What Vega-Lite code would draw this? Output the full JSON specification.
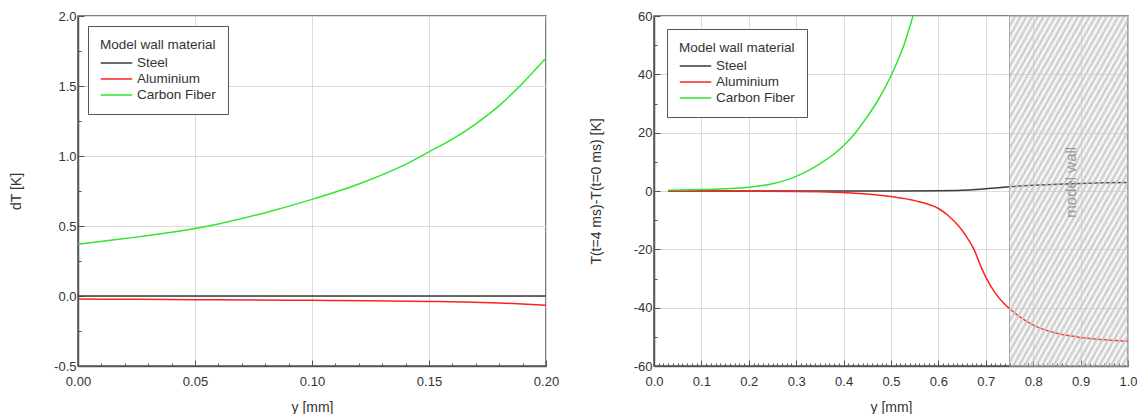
{
"$schema":"https://vega.github.io/schema/vega-lite/v6.json",
"padding":{"left":8,"top":9,"right":2,"bottom":2},
"config":{
 "font":"Liberation Sans",
 "view":{"stroke":"#555","strokeWidth":1.5},
 "axis":{"domainColor":"#555","domainWidth":1.5,"tickColor":"#555","tickWidth":1,"gridColor":"#dcdcdc","gridWidth":1,"labelFontSize":13,"labelColor":"#333","titleFontSize":14,"titleFontWeight":"normal","titleColor":"#333","labelOverlap":false,"labelFlush":false},
 "legend":{"orient":"top-left","padding":12,"strokeColor":"#555","strokeWidth":1,"fillColor":"#ffffff","titleFontWeight":"normal","titleFontSize":13.5,"titleColor":"#333","labelFontSize":13.5,"labelColor":"#333","symbolType":"M-2.1,0H2.1","symbolSize":225,"symbolStrokeWidth":1.5,"symbolOffset":8,"rowPadding":1,"labelOffset":12,"titlePadding":3},
 "concat":{"spacing":28}
},
"datasets":{
 "left":[
  {"material":"Steel","y_mm":0,"dT":0},{"material":"Steel","y_mm":0.05,"dT":0},{"material":"Steel","y_mm":0.1,"dT":0},{"material":"Steel","y_mm":0.15,"dT":0},{"material":"Steel","y_mm":0.2,"dT":0},
  {"material":"Aluminium","y_mm":0,"dT":-0.022},{"material":"Aluminium","y_mm":0.025,"dT":-0.024},{"material":"Aluminium","y_mm":0.05,"dT":-0.026},{"material":"Aluminium","y_mm":0.075,"dT":-0.028},{"material":"Aluminium","y_mm":0.1,"dT":-0.031},{"material":"Aluminium","y_mm":0.125,"dT":-0.034},{"material":"Aluminium","y_mm":0.15,"dT":-0.039},{"material":"Aluminium","y_mm":0.165,"dT":-0.043},{"material":"Aluminium","y_mm":0.18,"dT":-0.05},{"material":"Aluminium","y_mm":0.19,"dT":-0.057},{"material":"Aluminium","y_mm":0.2,"dT":-0.066},
  {"material":"Carbon Fiber","y_mm":0,"dT":0.37},{"material":"Carbon Fiber","y_mm":0.02,"dT":0.41},{"material":"Carbon Fiber","y_mm":0.04,"dT":0.455},{"material":"Carbon Fiber","y_mm":0.06,"dT":0.515},{"material":"Carbon Fiber","y_mm":0.08,"dT":0.595},{"material":"Carbon Fiber","y_mm":0.1,"dT":0.69},{"material":"Carbon Fiber","y_mm":0.12,"dT":0.8},{"material":"Carbon Fiber","y_mm":0.14,"dT":0.94},{"material":"Carbon Fiber","y_mm":0.15,"dT":1.03},{"material":"Carbon Fiber","y_mm":0.16,"dT":1.12},{"material":"Carbon Fiber","y_mm":0.17,"dT":1.23},{"material":"Carbon Fiber","y_mm":0.18,"dT":1.36},{"material":"Carbon Fiber","y_mm":0.19,"dT":1.52},{"material":"Carbon Fiber","y_mm":0.2,"dT":1.7}
 ],
 "right":[
  {"material":"Steel","y_mm":0.03,"dT":0},{"material":"Steel","y_mm":0.2,"dT":0},{"material":"Steel","y_mm":0.4,"dT":0},{"material":"Steel","y_mm":0.5,"dT":0.03},{"material":"Steel","y_mm":0.6,"dT":0.1},{"material":"Steel","y_mm":0.65,"dT":0.25},{"material":"Steel","y_mm":0.68,"dT":0.5},{"material":"Steel","y_mm":0.7,"dT":0.75},{"material":"Steel","y_mm":0.72,"dT":1.05},{"material":"Steel","y_mm":0.75,"dT":1.45},{"material":"Steel","y_mm":0.8,"dT":1.95},{"material":"Steel","y_mm":0.85,"dT":2.3},{"material":"Steel","y_mm":0.9,"dT":2.6},{"material":"Steel","y_mm":0.95,"dT":2.8},{"material":"Steel","y_mm":1.0,"dT":2.9},
  {"material":"Aluminium","y_mm":0.03,"dT":0},{"material":"Aluminium","y_mm":0.1,"dT":-0.02},{"material":"Aluminium","y_mm":0.2,"dT":-0.05},{"material":"Aluminium","y_mm":0.3,"dT":-0.15},{"material":"Aluminium","y_mm":0.35,"dT":-0.3},{"material":"Aluminium","y_mm":0.4,"dT":-0.55},{"material":"Aluminium","y_mm":0.45,"dT":-1.0},{"material":"Aluminium","y_mm":0.5,"dT":-1.9},{"material":"Aluminium","y_mm":0.55,"dT":-3.3},{"material":"Aluminium","y_mm":0.6,"dT":-6.0},{"material":"Aluminium","y_mm":0.62,"dT":-8.3},{"material":"Aluminium","y_mm":0.64,"dT":-11.5},{"material":"Aluminium","y_mm":0.66,"dT":-15.8},{"material":"Aluminium","y_mm":0.675,"dT":-20},{"material":"Aluminium","y_mm":0.69,"dT":-26},{"material":"Aluminium","y_mm":0.7,"dT":-29.5},{"material":"Aluminium","y_mm":0.72,"dT":-35},{"material":"Aluminium","y_mm":0.74,"dT":-38.8},{"material":"Aluminium","y_mm":0.75,"dT":-40.3},{"material":"Aluminium","y_mm":0.775,"dT":-43.5},{"material":"Aluminium","y_mm":0.8,"dT":-46},{"material":"Aluminium","y_mm":0.85,"dT":-48.8},{"material":"Aluminium","y_mm":0.9,"dT":-50.2},{"material":"Aluminium","y_mm":0.95,"dT":-51},{"material":"Aluminium","y_mm":1.0,"dT":-51.5},
  {"material":"Carbon Fiber","y_mm":0.03,"dT":0.3},{"material":"Carbon Fiber","y_mm":0.1,"dT":0.5},{"material":"Carbon Fiber","y_mm":0.15,"dT":0.8},{"material":"Carbon Fiber","y_mm":0.2,"dT":1.3},{"material":"Carbon Fiber","y_mm":0.25,"dT":2.5},{"material":"Carbon Fiber","y_mm":0.3,"dT":5.0},{"material":"Carbon Fiber","y_mm":0.35,"dT":9.3},{"material":"Carbon Fiber","y_mm":0.4,"dT":15.5},{"material":"Carbon Fiber","y_mm":0.425,"dT":20},{"material":"Carbon Fiber","y_mm":0.45,"dT":25.5},{"material":"Carbon Fiber","y_mm":0.475,"dT":31.8},{"material":"Carbon Fiber","y_mm":0.5,"dT":39.5},{"material":"Carbon Fiber","y_mm":0.525,"dT":49},{"material":"Carbon Fiber","y_mm":0.55,"dT":62}
 ],
 "wall":[{"y_mm":0.75,"y_mm_end":1.0,"dT":-60,"dT_end":60}],
 "wall_label":[{"y_mm":0.88,"dT":3,"label":"model wall"}]
},
"hconcat":[
 {"width":468,"height":350,"data":{"name":"left"},"mark":{"type":"line","strokeWidth":1.5,"clip":true,"interpolate":"monotone"},
  "encoding":{
   "x":{"field":"y_mm","type":"quantitative","scale":{"domain":[0,0.2],"nice":false},
    "axis":{"title":"y [mm]","titlePadding":9,"labelPadding":15,"labelOverlap":false,"labelFlush":false,"grid":true,"values":[0,0.01,0.02,0.03,0.04,0.05,0.06,0.07,0.08,0.09,0.1,0.11,0.12,0.13,0.14,0.15,0.16,0.17,0.18,0.19,0.2],
     "labelExpr":"round(datum.value*100)%5==0 ? format(datum.value,'.2f') : ''",
     "tickSize":{"condition":{"test":"round(datum.value*100)%5==0","value":-6},"value":-3},
     "gridOpacity":{"condition":{"test":"round(datum.value*100)%5==0","value":1},"value":0}}},
   "y":{"field":"dT","type":"quantitative","scale":{"domain":[-0.5,2],"nice":false},
    "axis":{"title":"dT [K]","titlePadding":30,"labelPadding":8,"labelOverlap":false,"labelFlush":false,"grid":true,"values":[-0.5,-0.25,0,0.25,0.5,0.75,1,1.25,1.5,1.75,2],
     "labelExpr":"round(datum.value*100)%50==0 ? replace(format(datum.value,'.1f'),'−','-') : ''",
     "tickSize":{"condition":{"test":"round(datum.value*100)%50==0","value":-6},"value":-3},
     "gridOpacity":{"condition":{"test":"round(datum.value*100)%50==0","value":1},"value":0}}},
   "color":{"field":"material","type":"nominal","scale":{"domain":["Steel","Aluminium","Carbon Fiber"],"range":["#3a3a3a","#ff2020","#2ee82e"]},"legend":{"title":"Model wall material","orient":"top-left","offset":10}}
  }},
 {"width":474,"height":350,
  "encoding":{
    "x":{"field":"y_mm","type":"quantitative","scale":{"domain":[0,1],"nice":false},
     "axis":{"title":"y [mm]","titlePadding":9,"labelPadding":15,"labelOverlap":false,"labelFlush":false,"grid":true,"values":[0,0.01,0.02,0.03,0.04,0.05,0.06,0.07,0.08,0.09,0.1,0.11,0.12,0.13,0.14,0.15,0.16,0.17,0.18,0.19,0.2,0.21,0.22,0.23,0.24,0.25,0.26,0.27,0.28,0.29,0.3,0.31,0.32,0.33,0.34,0.35,0.36,0.37,0.38,0.39,0.4,0.41,0.42,0.43,0.44,0.45,0.46,0.47,0.48,0.49,0.5,0.51,0.52,0.53,0.54,0.55,0.56,0.57,0.58,0.59,0.6,0.61,0.62,0.63,0.64,0.65,0.66,0.67,0.68,0.69,0.7,0.71,0.72,0.73,0.74,0.75,0.76,0.77,0.78,0.79,0.8,0.81,0.82,0.83,0.84,0.85,0.86,0.87,0.88,0.89,0.9,0.91,0.92,0.93,0.94,0.95,0.96,0.97,0.98,0.99,1.0],
      "labelExpr":"round(datum.value*100)%10==0 ? format(datum.value,'.1f') : ''",
      "tickSize":{"condition":{"test":"round(datum.value*100)%10==0","value":-6},"value":-3},
      "gridOpacity":{"condition":{"test":"round(datum.value*100)%10==0","value":1},"value":0}}},
    "y":{"field":"dT","type":"quantitative","scale":{"domain":[-60,60],"nice":false},
     "axis":{"title":"T(t=4 ms)-T(t=0 ms) [K]","titlePadding":30,"labelPadding":8,"labelOverlap":false,"labelFlush":false,"grid":true,"values":[-60,-50,-40,-30,-20,-10,0,10,20,30,40,50,60],
      "labelExpr":"round(datum.value)%20==0 ? replace(format(datum.value,'d'),'−','-') : ''",
      "tickSize":{"condition":{"test":"round(datum.value)%20==0","value":-6},"value":-3},
      "gridOpacity":{"condition":{"test":"round(datum.value)%20==0","value":1},"value":0}}}
  },
  "layer":[
  {"data":{"name":"right"},"mark":{"type":"line","strokeWidth":1.5,"clip":true,"interpolate":"monotone"},
   "encoding":{
    "color":{"field":"material","type":"nominal","scale":{"domain":["Steel","Aluminium","Carbon Fiber"],"range":["#3a3a3a","#ff2020","#2ee82e"]},"legend":{"title":"Model wall material","orient":"top-left","offset":13}}
   }},
  {"data":{"name":"wall"},"mark":{"type":"rect","stroke":"#a8a8a8","strokeWidth":1,
    "fill":{"gradient":"linear","x1":0,"y1":0,"x2":0.706,"y2":1.176,"stops":[
{"offset":0,"color":"#c8c8c8"},{"offset":0.00909,"color":"rgba(200,200,200,0)"},{"offset":0.01818,"color":"#c8c8c8"},{"offset":0.02727,"color":"rgba(200,200,200,0)"},{"offset":0.03636,"color":"#c8c8c8"},{"offset":0.04545,"color":"rgba(200,200,200,0)"},{"offset":0.05455,"color":"#c8c8c8"},{"offset":0.06364,"color":"rgba(200,200,200,0)"},{"offset":0.07273,"color":"#c8c8c8"},{"offset":0.08182,"color":"rgba(200,200,200,0)"},{"offset":0.09091,"color":"#c8c8c8"},{"offset":0.1,"color":"rgba(200,200,200,0)"},
{"offset":0.10909,"color":"#c8c8c8"},{"offset":0.11818,"color":"rgba(200,200,200,0)"},{"offset":0.12727,"color":"#c8c8c8"},{"offset":0.13636,"color":"rgba(200,200,200,0)"},{"offset":0.14545,"color":"#c8c8c8"},{"offset":0.15455,"color":"rgba(200,200,200,0)"},{"offset":0.16364,"color":"#c8c8c8"},{"offset":0.17273,"color":"rgba(200,200,200,0)"},{"offset":0.18182,"color":"#c8c8c8"},{"offset":0.19091,"color":"rgba(200,200,200,0)"},{"offset":0.2,"color":"#c8c8c8"},
{"offset":0.20909,"color":"rgba(200,200,200,0)"},{"offset":0.21818,"color":"#c8c8c8"},{"offset":0.22727,"color":"rgba(200,200,200,0)"},{"offset":0.23636,"color":"#c8c8c8"},{"offset":0.24545,"color":"rgba(200,200,200,0)"},{"offset":0.25455,"color":"#c8c8c8"},{"offset":0.26364,"color":"rgba(200,200,200,0)"},{"offset":0.27273,"color":"#c8c8c8"},{"offset":0.28182,"color":"rgba(200,200,200,0)"},{"offset":0.29091,"color":"#c8c8c8"},{"offset":0.3,"color":"rgba(200,200,200,0)"},
{"offset":0.30909,"color":"#c8c8c8"},{"offset":0.31818,"color":"rgba(200,200,200,0)"},{"offset":0.32727,"color":"#c8c8c8"},{"offset":0.33636,"color":"rgba(200,200,200,0)"},{"offset":0.34545,"color":"#c8c8c8"},{"offset":0.35455,"color":"rgba(200,200,200,0)"},{"offset":0.36364,"color":"#c8c8c8"},{"offset":0.37273,"color":"rgba(200,200,200,0)"},{"offset":0.38182,"color":"#c8c8c8"},{"offset":0.39091,"color":"rgba(200,200,200,0)"},{"offset":0.4,"color":"#c8c8c8"},
{"offset":0.40909,"color":"rgba(200,200,200,0)"},{"offset":0.41818,"color":"#c8c8c8"},{"offset":0.42727,"color":"rgba(200,200,200,0)"},{"offset":0.43636,"color":"#c8c8c8"},{"offset":0.44545,"color":"rgba(200,200,200,0)"},{"offset":0.45455,"color":"#c8c8c8"},{"offset":0.46364,"color":"rgba(200,200,200,0)"},{"offset":0.47273,"color":"#c8c8c8"},{"offset":0.48182,"color":"rgba(200,200,200,0)"},{"offset":0.49091,"color":"#c8c8c8"},{"offset":0.5,"color":"rgba(200,200,200,0)"},
{"offset":0.50909,"color":"#c8c8c8"},{"offset":0.51818,"color":"rgba(200,200,200,0)"},{"offset":0.52727,"color":"#c8c8c8"},{"offset":0.53636,"color":"rgba(200,200,200,0)"},{"offset":0.54545,"color":"#c8c8c8"},{"offset":0.55455,"color":"rgba(200,200,200,0)"},{"offset":0.56364,"color":"#c8c8c8"},{"offset":0.57273,"color":"rgba(200,200,200,0)"},{"offset":0.58182,"color":"#c8c8c8"},{"offset":0.59091,"color":"rgba(200,200,200,0)"},{"offset":0.6,"color":"#c8c8c8"},
{"offset":0.60909,"color":"rgba(200,200,200,0)"},{"offset":0.61818,"color":"#c8c8c8"},{"offset":0.62727,"color":"rgba(200,200,200,0)"},{"offset":0.63636,"color":"#c8c8c8"},{"offset":0.64545,"color":"rgba(200,200,200,0)"},{"offset":0.65455,"color":"#c8c8c8"},{"offset":0.66364,"color":"rgba(200,200,200,0)"},{"offset":0.67273,"color":"#c8c8c8"},{"offset":0.68182,"color":"rgba(200,200,200,0)"},{"offset":0.69091,"color":"#c8c8c8"},{"offset":0.7,"color":"rgba(200,200,200,0)"},
{"offset":0.70909,"color":"#c8c8c8"},{"offset":0.71818,"color":"rgba(200,200,200,0)"},{"offset":0.72727,"color":"#c8c8c8"},{"offset":0.73636,"color":"rgba(200,200,200,0)"},{"offset":0.74545,"color":"#c8c8c8"},{"offset":0.75455,"color":"rgba(200,200,200,0)"},{"offset":0.76364,"color":"#c8c8c8"},{"offset":0.77273,"color":"rgba(200,200,200,0)"},{"offset":0.78182,"color":"#c8c8c8"},{"offset":0.79091,"color":"rgba(200,200,200,0)"},{"offset":0.8,"color":"#c8c8c8"},
{"offset":0.80909,"color":"rgba(200,200,200,0)"},{"offset":0.81818,"color":"#c8c8c8"},{"offset":0.82727,"color":"rgba(200,200,200,0)"},{"offset":0.83636,"color":"#c8c8c8"},{"offset":0.84545,"color":"rgba(200,200,200,0)"},{"offset":0.85455,"color":"#c8c8c8"},{"offset":0.86364,"color":"rgba(200,200,200,0)"},{"offset":0.87273,"color":"#c8c8c8"},{"offset":0.88182,"color":"rgba(200,200,200,0)"},{"offset":0.89091,"color":"#c8c8c8"},{"offset":0.9,"color":"rgba(200,200,200,0)"},
{"offset":0.90909,"color":"#c8c8c8"},{"offset":0.91818,"color":"rgba(200,200,200,0)"},{"offset":0.92727,"color":"#c8c8c8"},{"offset":0.93636,"color":"rgba(200,200,200,0)"},{"offset":0.94545,"color":"#c8c8c8"},{"offset":0.95455,"color":"rgba(200,200,200,0)"},{"offset":0.96364,"color":"#c8c8c8"},{"offset":0.97273,"color":"rgba(200,200,200,0)"},{"offset":0.98182,"color":"#c8c8c8"},{"offset":0.99091,"color":"rgba(200,200,200,0)"},{"offset":1,"color":"#c8c8c8"}
    ]}},
   "encoding":{"x2":{"field":"y_mm_end"},"y2":{"field":"dT_end"}}},
  {"data":{"name":"wall_label"},"mark":{"type":"text","angle":270,"fontSize":15,"color":"#9a9a9a"},
   "encoding":{"text":{"field":"label"}}}
 ]}
],
"resolve":{"legend":{"color":"independent"}}
}
